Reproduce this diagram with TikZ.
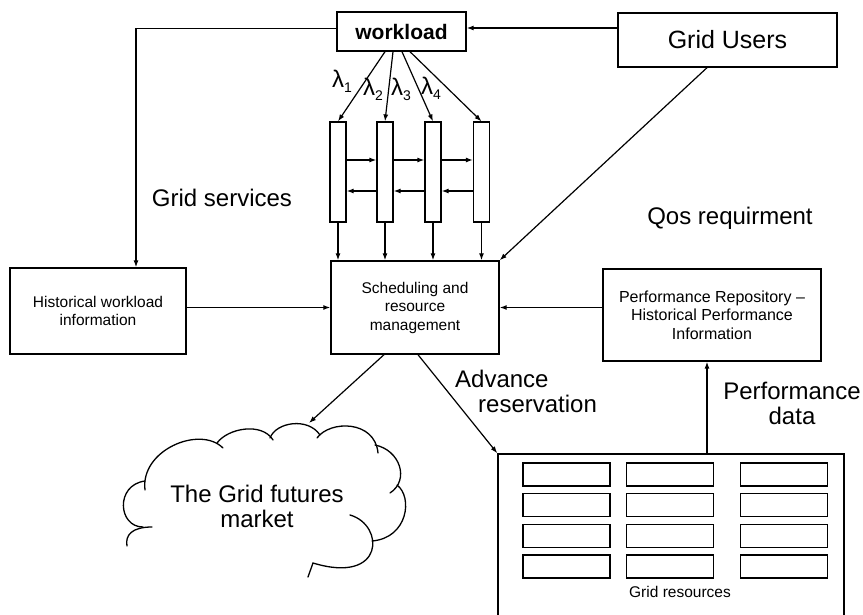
\documentclass[tikz,border=0pt]{standalone}
\usepackage{fontspec}
\setmainfont{Liberation Sans}
\usetikzlibrary{arrows.meta}

\tikzset{
  box/.style={draw, line width=1.4pt, rectangle, inner sep=0pt, align=center},
  qbar/.style={draw, line width=1.2pt, rectangle, inner sep=0pt, minimum width=16pt, minimum height=100pt},
  cell/.style={draw, line width=1.2pt, rectangle, inner sep=0pt, minimum width=87pt, minimum height=23pt},
  arr/.style={line width=1.2pt, -{Latex[length=7pt,width=5pt]}},
  lobe/.style={line width=1.3pt, line cap=round},
  big/.style={font=\fontsize{24}{25}\selectfont, inner sep=0pt},
  small/.style={font=\fontsize{15.5}{18.5}\selectfont},
  rate/.style={anchor=base west, inner sep=0pt, font=\fontsize{24}{26}\selectfont},
}
\newcommand{\ratesub}[1]{\raisebox{-5pt}{\fontsize{14}{14}\selectfont #1}}

\begin{document}
\begin{tikzpicture}[x=1pt,y=-1pt]
\useasboundingbox (0,0) rectangle (863,615);

% main boxes
\node[box, minimum width=129pt, minimum height=39pt, font=\fontsize{21}{24}\selectfont\bfseries] (wl) at (401.5,31.5) {workload};
\node[box, minimum width=219pt, minimum height=54pt, font=\fontsize{25}{28}\selectfont] (gu) at (727.5,40) {Grid Users};
\node[box, small, minimum width=176pt, minimum height=86pt] (hist) at (98,311) {Historical workload\\information};
\node[box, small, minimum width=168pt, minimum height=93pt] (sched) at (415,307.5) {Scheduling and\\resource\\management};
\node[box, minimum width=218pt, minimum height=92pt, font=\fontsize{16}{18.5}\selectfont] (perf) at (712,315) {Performance Repository --\\Historical Performance\\Information};

% queues
\node[qbar] (q1) at (338,172) {};
\node[qbar] (q2) at (385,172) {};
\node[qbar] (q3) at (433,172) {};
\node[qbar] (q4) at (481.5,172) {};

% arrival rates
\node[rate] (lam1) at (332,88) {λ\ratesub{1}};
\node[rate] (lam2) at (363,96) {λ\ratesub{2}};
\node[rate] (lam3) at (391,96) {λ\ratesub{3}};
\node[rate] (lam4) at (421,95) {λ\ratesub{4}};

% grid resources container and its cells
\node[box, minimum width=346pt, minimum height=180pt] (gr) at (671,544) {};
\foreach \c/\x in {1/566.5,2/670,3/784}
  \foreach \r/\y in {1/474.5,2/505,3/536,4/566.5}
    \node[cell] (r\c\r) at (\x,\y) {};
\node[small, inner sep=0pt] (grlabel) at (680,592) {Grid resources};

% futures market cloud, drawn lobe by lobe (open at the lower left)
\draw[lobe] (127,546) .. controls (125,535) and (132,527) .. (152,527);
\draw[lobe] (143,527) .. controls (118,527) and (115,485) .. (145,481);
\draw[lobe] (145,490) .. controls (140,450) and (200,425) .. (223,448);
\draw[lobe] (217,443) .. controls (228,428) and (262,422) .. (273,440);
\draw[lobe] (270,438) .. controls (276,422) and (308,417) .. (320,435);
\draw[lobe] (317,438) .. controls (330,420) and (375,420) .. (378,453);
\draw[lobe] (375,445) .. controls (400,450) and (410,480) .. (390,493);
\draw[lobe] (397,485) .. controls (413,497) and (408,538) .. (372,541);
\draw[lobe] (350,515) .. controls (385,525) and (385,585) .. (313,563) -- (308,577);
\node[big, align=center] (market) at (257,506) {The Grid futures\\market};
\coordinate (cloudin) at (309,423);

% free labels
\node[big] (gs) at (222,198) {Grid services};
\node[big] (qos) at (730,218) {Qos requirment};
\node[big, anchor=north west, align=left] (adv) at (455,370) {Advance\\\hspace*{23pt}reservation};
\node[big, align=center] (pd) at (792,403) {Performance\\data};

% connectors
\draw[arr] ([yshift=12pt]gu.west) -- ([yshift=12pt]gu.west -| wl.east);
\draw[arr] ([yshift=3pt]wl.west) -| ([xshift=38pt]hist.north);
\draw[arr] ([xshift=-16.5pt]wl.south) -- (q1.north);
\draw[arr] ([xshift=-8.5pt]wl.south) -- (q2.north);
\draw[arr] ([xshift=0.5pt]wl.south) -- (q3.north);
\draw[arr] ([xshift=8.5pt]wl.south) -- (q4.north);

\foreach \a/\b in {q1/q2,q2/q3,q3/q4}{
  \draw[arr] ([yshift=12pt]\a.east) -- ([yshift=12pt]\b.west);
  \draw[arr] ([yshift=-19pt]\b.west) -- ([yshift=-19pt]\a.east);
}
\foreach \q in {q1,q2,q3,q4}
  \draw[arr] (\q.south) -- (\q.south |- sched.north);

\draw[arr] ([xshift=-20.5pt]gu.south) -- (sched.north east);
\draw[arr] (sched.west -| hist.east) -- (sched.west);
\draw[arr] (sched.east -| perf.west) -- (sched.east);
\draw[arr] ([xshift=-31pt]sched.south) -- (cloudin);
\draw[arr] ([xshift=3pt]sched.south) -- (gr.north west);
\draw[arr] ([xshift=36pt]gr.north) -- ([xshift=36pt]gr.north |- perf.south);
\end{tikzpicture}
\end{document}
